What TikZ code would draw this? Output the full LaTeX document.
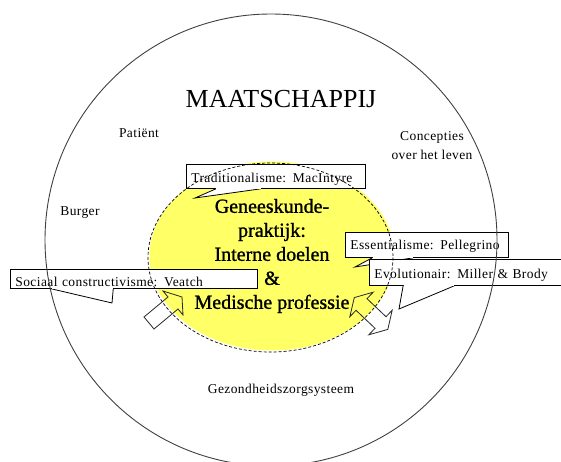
\documentclass[tikz,border=0pt]{standalone}
\usepackage{fontspec}
\setmainfont{Liberation Serif}
\newfontfamily\labelfont[LetterSpace=3]{Liberation Serif}
\newfontfamily\kernfont[FakeBold=1.2]{Liberation Serif}
\usetikzlibrary{calc,shapes.geometric}
\definecolor{praktijkgeel}{RGB}{255,255,102}
% tail of a callout box, base on the bottom edge (2/12 .. 5/12), tip at #2
\newcommand\callouttail[2]{%
  \filldraw[tail] ($(#1.south west)!2/12!(#1.south east)$) -- (#2) -- ($(#1.south west)!5/12!(#1.south east)$);
  \fill[white] ($(#1.south west)!2/12!(#1.south east)+(0.4,-0.6)$) rectangle ($(#1.south west)!5/12!(#1.south east)+(-0.4,0.2)$);}

\begin{document}
\begin{tikzpicture}[x=1pt,y=-1pt,
  lbl/.style={font=\labelfont\fontsize{13.5}{19}\selectfont,align=center,inner sep=0pt},
  callout/.style={lbl,draw,fill=white,anchor=north west,align=left,inner xsep=5pt,inner ysep=0pt,line width=0.8pt},
  tail/.style={draw,fill=white,line width=0.8pt},
  blok/.style={draw=black!85,line width=0.8pt,line join=miter}]
\clip (0,0) rectangle (561,462);
\node[ellipse,fill=praktijkgeel,minimum width=245pt,minimum height=189pt,inner sep=0pt,align=center,
  font=\kernfont\fontsize{20}{24}\selectfont] (praktijk) at (272,256) {Geneeskunde-\\praktijk:\\Interne doelen\\\&\\Medische professie};
\node[anchor=base,font=\fontsize{26}{30}\selectfont] (maatschappij) at (281,108) {MAATSCHAPPIJ};
\node[lbl] (patient) at (139,133) {Patiënt};
\node[lbl] (concepties) at (432,146) {Concepties\\over het leven};
\node[lbl] (burger) at (80,213) {Burger};
\node[lbl] (zorg) at (281,390) {Gezondheidszorgsysteem};

% callouts
\node[callout,text width=169pt,text height=18pt,text depth=6pt] (trad) at (186,164) {Traditionalisme: MacIntyre};
\coordinate (tradtip) at (195,198);
\callouttail{trad}{tradtip}
\node[callout,text width=237pt,text height=17pt,text depth=2pt] (sociaal) at (10,269) {Sociaal constructivisme: Veatch};
\coordinate (sociaaltip) at (112,303);
\callouttail{sociaal}{sociaaltip}
\node[callout,text width=153pt,text height=17pt,text depth=8pt] (ess) at (345,232) {Essentialisme: Pellegrino};
\coordinate (esstip) at (355,267);
\callouttail{ess}{esstip}
\node[callout,text width=194pt,text height=19pt,text depth=7pt] (evol) at (369,259) {Evolutionair: Miller \& Brody};
\coordinate (evoltip) at (399,309);
\callouttail{evol}{evoltip}

% block arrows
\draw[blok] (144,317) -- (168,297) -- (163,291) -- (182,297) -- (183,315) -- (178,309) -- (154,329) -- cycle;
\draw[blok] (354.3,297.6) -- (349.8,316.8) -- (356,310.3) -- (375,328.3) -- (368.8,334.8) -- (387.8,329.4)
  -- (392.2,310.2) -- (386,316.7) -- (367,298.7) -- (373.2,292.2) -- cycle;

\draw[dash pattern=on 3pt off 2pt,line width=0.7pt] (270.5,257.5) ellipse [x radius=122.5,y radius=94.5];
\coordinate (midden) at (271,240);
\draw[black!75,line width=0.9pt] (midden) circle [radius=226];
\end{tikzpicture}
\end{document}
